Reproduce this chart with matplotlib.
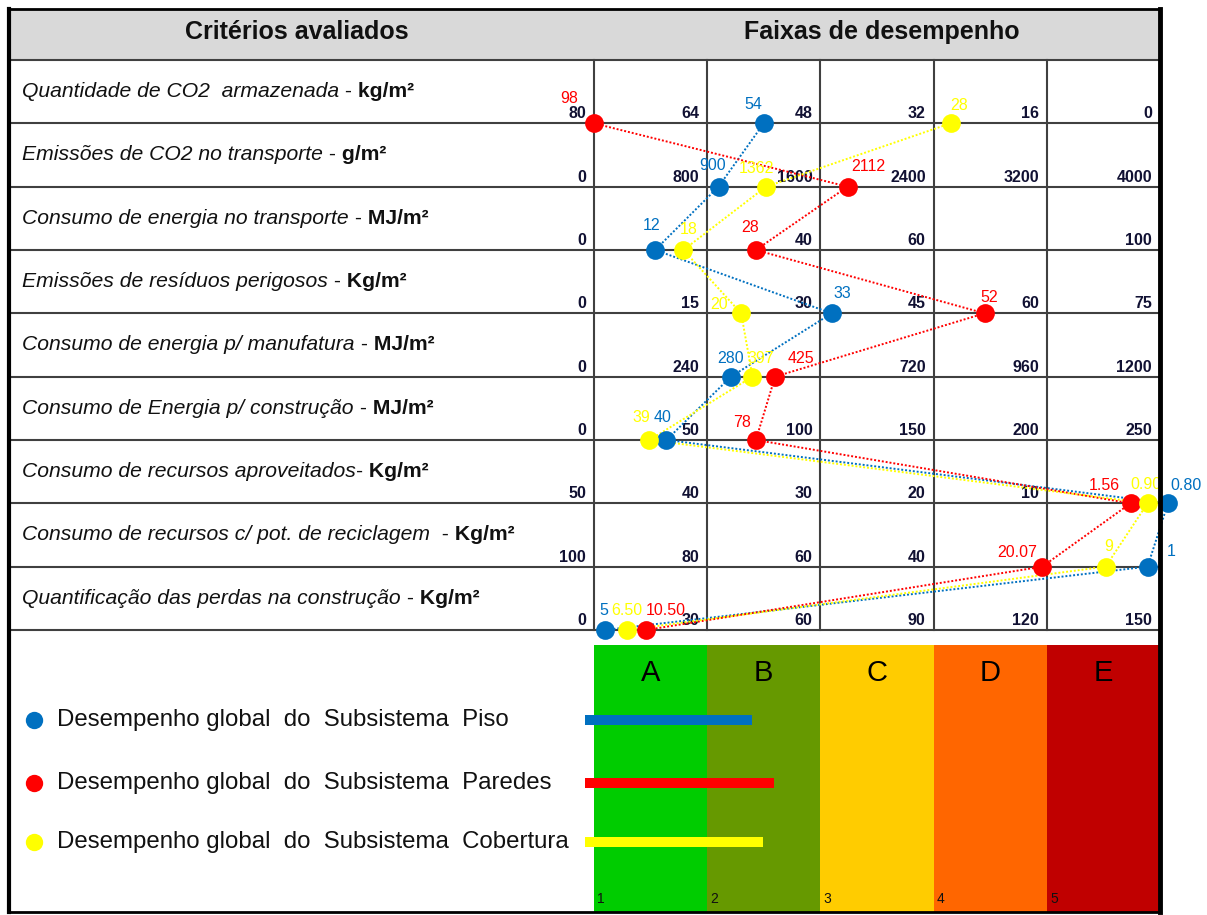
import matplotlib.pyplot as plt
from matplotlib.patches import Rectangle
import numpy as np

plt.rcParams['font.family'] = ['Liberation Sans', 'DejaVu Sans']

# --- data ---
criteria = [
    'Quantidade de CO2  armazenada',
    'Emissões de CO2 no transporte',
    'Consumo de energia no transporte',
    'Emissões de resíduos perigosos',
    'Consumo de energia p/ manufatura',
    'Consumo de Energia p/ construção',
    'Consumo de recursos aproveitados',
    'Consumo de recursos c/ pot. de reciclagem',
    'Quantificação das perdas na construção',
]
separators = [' -', ' -', ' -', ' -', ' -', ' -', '-', '  -', ' -']
units = ['kg/m²', 'g/m²', 'MJ/m²', 'Kg/m²', 'MJ/m²', 'MJ/m²', 'Kg/m²', 'Kg/m²', 'Kg/m²']

# scale values printed at the band limits of each row ('' = not shown)
scale_labels = [
    ['80', '64', '48', '32', '16', '0'],
    ['0', '800', '1600', '2400', '3200', '4000'],
    ['0', '', '40', '60', '', '100'],
    ['0', '15', '30', '45', '60', '75'],
    ['0', '240', '', '720', '960', '1200'],
    ['0', '50', '100', '150', '200', '250'],
    ['50', '40', '30', '20', '10', ''],
    ['100', '80', '60', '40', '', ''],
    ['0', '30', '60', '90', '120', '150'],
]

# performance score on the band axis (1 = start of A ... 6 = end of E)
score_piso = [2.50, 2.10, 1.54, 3.10, 2.21, 1.64, 6.07, 5.89, 1.10]
score_paredes = [1.00, 3.24, 2.43, 4.45, 2.60, 2.43, 5.74, 4.96, 1.46]
score_cobertura = [4.15, 2.52, 1.79, 2.30, 2.40, 1.49, 5.89, 5.52, 1.29]

value_piso = ['54', '900', '12', '33', '280', '40', '0.80', '1', '5']
value_paredes = ['98', '2112', '28', '52', '425', '78', '1.56', '20.07', '10.50']
value_cobertura = ['28', '1362', '18', '20', '397', '39', '0.90', '9', '6.50']

global_scores = [2.40, 2.59, 2.49]  # Piso, Paredes, Cobertura
series_names = [
    'Desempenho global  do  Subsistema  Piso',
    'Desempenho global  do  Subsistema  Paredes',
    'Desempenho global  do  Subsistema  Cobertura',
]
bands = ['A', 'B', 'C', 'D', 'E']
band_numbers = ['1', '2', '3', '4', '5']

# --- styles / layout ---
BLUE, RED, YELLOW = '#0070c0', '#ff0000', '#ffff00'
band_colors = ['#00cc00', '#669900', '#ffcc00', '#ff6600', '#c00000']
GRID = '#404040'
TXT = '#111111'

# label offsets (pixels) relative to each marker
off_piso = [(-10, 19), (-6, 21), (-4, 24), (11, 20), (0, 18), (-4, 22), (18, 18), (24, 15), (-2, 19)]
off_paredes = [(-25, 25), (21, 20), (-6, 22), (5, 16), (26, 18), (-14, 17), (-26, 18), (-25, 14), (20, 19)]
off_cobertura = [(9, 18), (-10, 18), (5, 20), (-22, 9), (8, 18), (-8, 22), (-2, 19), (3, 20), (0, 19)]

COL_W, ROW_H = 113.2, 63.33   # pixel size of one band column / one table row
X0_PX, Y0_PX = 594, 60         # pixel position of score 1 / of the header bottom


def px_x(px):
    return 1 + (px - X0_PX) / COL_W


def px_y(py):
    return (py - Y0_PX) / ROW_H


fig = plt.figure(figsize=(12.07, 9.15), dpi=100)
ax = fig.add_axes([0, 0, 1, 1])
ax.set_xlim(px_x(0), px_x(1207))
ax.set_ylim(px_y(915), px_y(0))
ax.axis('off')

left, right = px_x(9), 6.0
top, bottom = px_y(9), px_y(912)
n = len(criteria)
rows = np.arange(1, n + 1)

# header
ax.add_patch(Rectangle((left, top), right - left, -top, facecolor='#d9d9d9', edgecolor='none', zorder=0))
ax.text(px_x(297), px_y(32), 'Critérios avaliados', ha='center', va='center',
        fontsize=18, fontweight='bold', color=TXT)
ax.text(px_x(882), px_y(32), 'Faixas de desempenho', ha='center', va='center',
        fontsize=18, fontweight='bold', color=TXT)

# table grid
for r in range(n + 1):
    ax.plot([left, right], [r, r], color=GRID, lw=1.5, zorder=2)
for k in range(1, 6):
    ax.plot([k, k], [0, n], color=GRID, lw=1.5, zorder=2)

# criteria names
for i, (name, sep, unit) in enumerate(zip(criteria, separators, units)):
    t1 = ax.text(px_x(22), i + 0.5, name, style='italic', fontsize=15.2,
                 ha='left', va='center', color=TXT)
    t2 = ax.annotate(sep, xy=(1, 0.5), xycoords=t1, ha='left', va='center',
                     fontsize=15.2, color=TXT)
    ax.annotate(' ' + unit, xy=(1, 0.5), xycoords=t2, ha='left', va='center',
                fontsize=15.2, fontweight='bold', color=TXT)

# scale labels
for i, labels in enumerate(scale_labels):
    for k, lab in enumerate(labels):
        ax.text(k + 1 - 0.07, i + 1 - 0.08, lab, ha='right', va='baseline',
                fontsize=11.5, fontweight='bold', color='#111133', zorder=3)

# series
for scores, values, color, offs in [
    (score_piso, value_piso, BLUE, off_piso),
    (score_paredes, value_paredes, RED, off_paredes),
    (score_cobertura, value_cobertura, YELLOW, off_cobertura),
]:
    ax.plot(scores, rows, ls=(0, (1, 1)), lw=1.4, color=color, zorder=3, clip_on=False)
    ax.plot(scores, rows, 'o', ms=13.5, color=color, mec='none', zorder=5, clip_on=False)
    for s, r, v, (dx, dy) in zip(scores, rows, values, offs):
        ax.annotate(v, (s, r), xytext=(dx, dy), textcoords='offset pixels',
                    ha='center', va='center', color=color, fontsize=11.5, zorder=4)

# performance bands
band_top, band_bot = px_y(645), px_y(913)
for k, (lab, num, c) in enumerate(zip(bands, band_numbers, band_colors)):
    ax.add_patch(Rectangle((k + 1, band_top), 1, band_bot - band_top,
                           facecolor=c, edgecolor='none', zorder=1))
    ax.text(k + 1.5, px_y(673), lab, ha='center', va='center', fontsize=21, color='black', zorder=3)
    ax.text(k + 1 + 0.03, px_y(899), num, ha='left', va='center', fontsize=10, color=TXT, zorder=3)

# global performance bars + legend
legend_y = [px_y(720), px_y(783), px_y(842)]
bar_start = px_x(585)
ax.barh(legend_y, np.array(global_scores) - bar_start, left=bar_start,
        height=10 / ROW_H, color=[BLUE, RED, YELLOW], zorder=2)
for y, name, color in zip(legend_y, series_names, [BLUE, RED, YELLOW]):
    ax.plot([px_x(34)], [y], 'o', ms=12.5, color=color, mec='none', zorder=3)
    ax.text(px_x(57), y, name, ha='left', va='center', fontsize=17.3, color=TXT)

# outer frame
ax.plot([left, right], [top, top], color='black', lw=2, zorder=6)
ax.plot([left, left], [top, bottom], color='black', lw=3, zorder=6)
ax.plot([right, right], [top, bottom], color='black', lw=3.5, zorder=6)
ax.plot([left, right], [bottom, bottom], color='black', lw=2, zorder=6)

fig.savefig('out.png', dpi=100)
